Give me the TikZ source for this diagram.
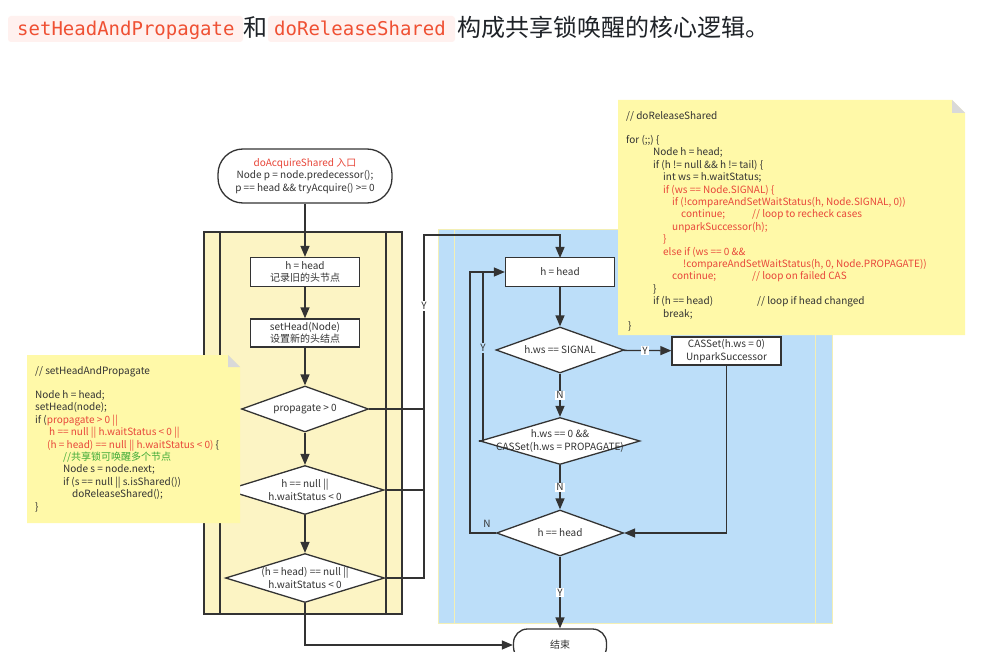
\documentclass[tikz,border=0pt]{standalone}
\usepackage{fontspec}
\setmainfont{Noto Sans CJK SC}
\newfontfamily\codefont{DejaVu Sans Mono}
\usetikzlibrary{arrows.meta,shapes.geometric,calc}
\definecolor{codered}{HTML}{EF5033}
\definecolor{codebg}{HTML}{FFF1EF}
\definecolor{hdr}{HTML}{1F2328}
\definecolor{ink}{HTML}{333333}
\definecolor{lanefill}{HTML}{FCF4C4}
\definecolor{bluefill}{HTML}{BCDEF9}
\definecolor{blueedge}{HTML}{F3EFB5}
\definecolor{notefill}{HTML}{FFF9A8}
\definecolor{foldfill}{HTML}{D9D9D9}
\definecolor{nred}{HTML}{E8473A}
\definecolor{ngreen}{HTML}{3CA935}
\newcommand\codeln[4]{\node[codetxt] (#1) at (#2,#3) {#4};}
\begin{document}
\begin{tikzpicture}[x=1pt,y=-1pt,
  line/.style={draw=ink,line width=1.3pt},
  arr/.style={line,-{Triangle[length=11pt,width=9pt]}},
  proc/.style={rectangle,draw=ink,line width=1.3pt,fill=white,minimum width=109pt,minimum height=29pt,inner sep=0pt,align=center,font=\fontsize{10}{12.5}\selectfont,text=ink},
  dia/.style={diamond,draw=ink,line width=1.3pt,fill=white,inner sep=0pt},
  dtext/.style={align=center,inner sep=0pt,font=\fontsize{10}{12.5}\selectfont,text=ink},
  yn/.style={fill=white,inner sep=1pt,font=\fontsize{10}{11}\selectfont,text=ink},
  codetxt/.style={anchor=base west,inner sep=0pt,font=\fontsize{10}{12}\selectfont,text=ink},
  hcode/.style={anchor=base west,inner sep=0pt,font=\codefont\fontsize{19}{22}\selectfont,text=codered},
  hcn/.style={anchor=base west,inner sep=0pt,font=\fontsize{24}{28}\selectfont,text=hdr}]
\useasboundingbox (0,0) rectangle (982,652);
\fill[white] (0,0) rectangle (982,652);

% ---------- header ----------
\fill[codebg,rounded corners=3pt] (8,16) rectangle (243,42);
\fill[codebg,rounded corners=3pt] (268,16) rectangle (455,42);
\node[hcode] (h1) at (17,36) {setHeadAndPropagate};
\node[hcn] (h2) at (243,37) {和};
\node[hcode] (h3) at (274,36) {doReleaseShared};
\node[hcn] (h4) at (457,37) {构成共享锁唤醒的核心逻辑。};

% ---------- containers ----------
\draw[fill=lanefill,draw=ink,line width=1.3pt] (204,232) rectangle (402,614);
\draw[ink,line width=1.3pt] (220,232) -- (220,614) (386,232) -- (386,614);
\draw[fill=bluefill,draw=blueedge,line width=1pt] (438,230) rectangle (832,623);
\draw[blueedge,line width=1pt] (454,230) -- (454,623) (815,230) -- (815,623);

% ---------- left flow ----------
\node[proc,minimum width=174pt,minimum height=54pt,rounded corners=25pt] (start) at (305,176)
  {{\color{nred}doAcquireShared 入口}\\Node p = node.predecessor();\\p == head \&\& tryAcquire() >= 0};
\node[proc] (b1) at (305,272) {h = head\\记录旧的头节点};
\node[proc,minimum height=28pt] (b2) at (305,333) {setHead(Node)\\设置新的头结点};
\node[dia,minimum width=127pt,minimum height=46pt] (d1) at (305,409) {};
\node[dtext] (d1t) at (d1.center) {propagate > 0};
\node[dia,minimum width=158pt,minimum height=49pt] (d2) at (305,490) {};
\node[dtext] (d2t) at (d2.center) {h == null ||\\h.waitStatus < 0};
\node[dia,minimum width=159pt,minimum height=49pt] (d3) at (305,578) {};
\node[dtext] (d3t) at (d3.center) {(h = head) == null ||\\h.waitStatus < 0};
\node[proc,minimum width=93pt,minimum height=32pt,rounded corners=14pt] (end) at (560,645) {结束};

\draw[arr] (start) -- (b1);
\draw[arr] (b1) -- (b2);
\draw[arr] (b2) -- (d1);
\draw[arr] (d1) -- (d2);
\draw[arr] (d2) -- (d3);
\draw[arr] (d3.south) |- (end.west);

\coordinate (ytop) at (424,235);
\draw[line] (d1.east) -- (d1.east -| ytop);
\draw[line] (d2.east) -- (d2.east -| ytop);
\draw[arr] (d3.east) -| (ytop) -| (560,258);
\node[yn] (yl1) at (424,306) {Y};

% ---------- right flow ----------
\node[proc] (r1) at (560,272) {h = head};
\node[dia,minimum width=128pt,minimum height=46pt] (rd1) at (560,350) {};
\node[dtext] (rd1t) at (rd1.center) {h.ws == SIGNAL};
\node[proc,minimum height=28pt] (cas) at (726.5,351) {CASSet(h.ws = 0)\\UnparkSuccessor};
\node[dia,minimum width=160pt,minimum height=47pt] (rd2) at (560,441) {};
\node[dtext] (rd2t) at (rd2.center) {h.ws == 0 \&\&\\CASSet(h.ws = PROPAGATE)};
\node[dia,minimum width=127pt,minimum height=46pt] (rd3) at (560,533) {};
\node[dtext] (rd3t) at (rd3.center) {h == head};

\draw[arr] (r1) -- (rd1);
\draw[arr] (rd1) -- (cas) node[yn,pos=0.45] (yl2) {Y};
\draw[arr] (rd1) -- (rd2) node[yn,midway] (nl1) {N};
\draw[arr] (rd2) -- (rd3) node[yn,midway] (nl2) {N};
\draw[arr] (rd3) -- (end) node[yn,pos=0.5] (yl3) {Y};
\draw[arr] (cas.south) |- (rd3.east);
\coordinate (lx2) at (483,272);
\draw[line] (rd2.west) -| (lx2);
\node[yn,fill=bluefill] (yl4) at (483,348) {Y};
\draw[arr] (rd3.west) -- (470,533) |- (r1.west);
\node[yn,fill=bluefill] (nl3) at (487,524) {N};

% ---------- left note ----------
\fill[notefill] (27,355) -- (228,355) -- (240,367) -- (240,523) -- (27,523) -- cycle;
\fill[foldfill] (228,355) -- (228,367) -- (240,367) -- cycle;
\codeln{la}{35}{374.5}{// setHeadAndPropagate}
\codeln{lb}{35}{398.5}{Node h = head;}
\codeln{lc}{35}{410.9}{setHead(node);}
\codeln{ld}{35}{423.3}{if ({\color{nred}propagate > 0 ||}}
\codeln{le}{49}{435.7}{\color{nred}h == null || h.waitStatus < 0 ||}
\codeln{lf}{47}{448.1}{{\color{nred}(h = head) == null || h.waitStatus < 0)} \{}
\codeln{lg}{63}{460.5}{\color{ngreen}//共享锁可唤醒多个节点}
\codeln{lh}{63}{472.9}{Node s = node.next;}
\codeln{li}{63}{485.3}{if (s == null || s.isShared())}
\codeln{lj}{72}{497.7}{doReleaseShared();}
\codeln{lk}{35}{510.1}{\}}

% ---------- right note ----------
\fill[notefill] (618,100) -- (952,100) -- (965,113) -- (965,335) -- (618,335) -- cycle;
\fill[foldfill] (952,100) -- (952,113) -- (965,113) -- cycle;
\codeln{ra}{626}{119.5}{// doReleaseShared}
\codeln{rb}{626}{143.5}{for (;;) \{}
\codeln{rc}{653}{155.9}{Node h = head;}
\codeln{rd}{653}{168.3}{if (h != null \&\& h != tail) \{}
\codeln{re}{663}{180.7}{int ws = h.waitStatus;}
\codeln{rf}{663}{193.1}{\color{nred}if (ws == Node.SIGNAL) \{}
\codeln{rg}{672}{205.5}{\color{nred}if (!compareAndSetWaitStatus(h, Node.SIGNAL, 0))}
\codeln{rh}{681}{217.9}{\color{nred}continue;}
\codeln{rh2}{752}{217.9}{\color{nred}// loop to recheck cases}
\codeln{ri}{672}{230.3}{\color{nred}unparkSuccessor(h);}
\codeln{rj}{663}{242.7}{\color{nred}\}}
\codeln{rk}{663}{255.1}{\color{nred}else if (ws == 0 \&\&}
\codeln{rl}{683}{267.5}{\color{nred}!compareAndSetWaitStatus(h, 0, Node.PROPAGATE))}
\codeln{rm}{672}{279.9}{\color{nred}continue;}
\codeln{rm2}{752}{279.9}{\color{nred}// loop on failed CAS}
\codeln{rn}{653}{292.3}{\}}
\codeln{ro}{653}{304.7}{if (h == head)}
\codeln{ro2}{757}{304.7}{// loop if head changed}
\codeln{rp}{663}{317.1}{break;}
\codeln{rq}{628}{329.5}{\}}
\end{tikzpicture}
\end{document}
